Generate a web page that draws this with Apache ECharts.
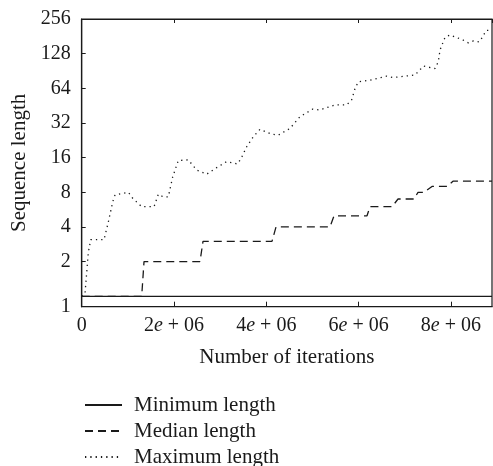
<!DOCTYPE html>
<html>
<head>
<meta charset="utf-8">
<script src="https://cdn.jsdelivr.net/npm/echarts@6/dist/echarts.min.js"></script>
<style>
html,body{margin:0;padding:0;background:#fff;}
#chart{width:493px;height:466px;}
</style>
</head>
<body>
<div id="chart"></div>
<script>
// Data (iterations, sequence length)
const minIter = [0, 8890000];
const minLen = [1, 1];

const medianIter = [0, 1300000, 1350000, 2563000, 2628000, 4123000, 4210000, 5380000, 5467000,
  6182000, 6247000, 6724000, 6854000, 7200000, 7287000, 7417000, 7590000, 7915000, 8045000, 8890000];
const medianLen = [1, 1, 2, 2, 3, 3, 4, 4, 5, 5, 6, 6, 7, 7, 8, 8, 9, 9, 10, 10];

const maxIter = [0, 71500, 108000, 143000, 195000, 483000, 576000, 672000, 722000, 867000,
  1010000, 1105000, 1300000, 1567000, 1660000, 1768000, 1876000, 1972000, 2093000, 2310000,
  2492000, 2709000, 2925000, 3142000, 3372000, 3445000, 3575000, 3718000, 3863000, 4117000,
  4260000, 4513000, 4730000, 5005000, 5148000, 5488000, 5742000, 5850000, 5922000, 5993000,
  6247000, 6609000, 6752000, 7005000, 7222000, 7330000, 7402000, 7655000, 7727000, 7764000,
  7872000, 7981000, 8256000, 8377000, 8485000, 8615000, 8689000, 8760000, 8890000];
const maxLen = [1, 1.06, 1.6, 2.4, 3.1, 3.1, 4.4, 6.6, 7.6, 7.8,
  8.0, 7.1, 6.0, 6.0, 7.7, 7.3, 7.3, 10.9, 15.1, 15.3,
  12.5, 11.5, 13.1, 14.8, 14.1, 15.5, 19.9, 24.3, 28.2, 25.6,
  25.1, 28.7, 36.3, 42.2, 41.5, 45.9, 45.9, 50.9, 63.7, 73,
  75.4, 81.6, 79.4, 81.6, 83.6, 92.8, 100, 95.1, 109, 137.6,
  177.6, 186, 168.6, 159, 165, 162, 179.6, 203, 206];

const xTicks = [0, 2000000, 4000000, 6000000, 8000000];
const yTicks = [1, 2, 4, 8, 16, 32, 64, 128, 256];
const seriesNames = ['Minimum length', 'Median length', 'Maximum length'];

const zip = (a, b) => a.map((v, i) => [v, b[i]]);
const FONT = 'Liberation Serif';
const INK = '#1a1a1a';

const chart = echarts.init(document.getElementById('chart'), null, {renderer: 'canvas'});

const xLabelFmt = v => {
  if (v === 0) return '0';
  if (xTicks.indexOf(v) < 0) return '';
  return '{n|' + (v / 1e6) + '}{i|e}{n| + 06}';
};
const richX = {
  n: {fontFamily: FONT, fontSize: 20, color: INK},
  i: {fontFamily: FONT, fontSize: 20, color: INK, fontStyle: 'italic'}
};

const option = {
  animation: false,
  backgroundColor: '#fff',
  textStyle: {fontFamily: FONT, color: INK},
  grid: {left: 81.7, right: 1, top: 19, bottom: 159.3, show: true, borderColor: INK, borderWidth: 1.2, backgroundColor: 'transparent'},
  xAxis: [{
    type: 'value', min: 0, max: 8890000, interval: 2000000, position: 'bottom',
    name: 'Number of iterations', nameLocation: 'middle', nameGap: 40,
    nameTextStyle: {fontFamily: FONT, fontSize: 21, color: INK},
    axisLine: {show: true, lineStyle: {color: INK, width: 1.2}},
    axisTick: {show: true, inside: true, length: 5, lineStyle: {color: INK}},
    axisLabel: {show: true, margin: 9, formatter: xLabelFmt, rich: richX, showMaxLabel: false, color: INK, fontSize: 20, fontFamily: FONT},
    splitLine: {show: false}
  }, {
    type: 'value', min: 0, max: 8890000, interval: 2000000, position: 'top',
    axisLine: {show: true, lineStyle: {color: INK, width: 1.2}},
    axisTick: {show: true, inside: true, length: 4, lineStyle: {color: INK}},
    axisLabel: {show: false},
    splitLine: {show: false}
  }],
  yAxis: {
    type: 'log', logBase: 2, min: 0.812, max: 256,
    name: 'Sequence length', nameLocation: 'middle', nameGap: 52,
    nameTextStyle: {fontFamily: FONT, fontSize: 21, color: INK},
    axisLine: {show: true, lineStyle: {color: INK, width: 1.2}},
    axisTick: {show: true, inside: true, length: 4, lineStyle: {color: INK}},
    axisLabel: {
      margin: 11, color: INK, fontFamily: FONT, fontSize: 20,
      formatter: v => {
        if (v < 0.99) return '1';
        if (Math.abs(v - 1) < 1e-6) return '';
        const r = Math.round(v);
        return yTicks.indexOf(r) >= 0 ? String(r) : '';
      }
    },
    splitLine: {show: false}
  },
  legend: {
    show: true,
    orient: 'vertical', left: 84, top: 394, height: 120, itemWidth: 37, itemHeight: 14, itemGap: 4,
    padding: 0,
    data: seriesNames,
    itemStyle: {color: 'rgba(0,0,0,0)', borderWidth: 0, opacity: 0},
    textStyle: {fontFamily: FONT, fontSize: 21, lineHeight: 22, color: INK, padding: [0, 0, 0, 7]}
  },
  series: [
    {name: seriesNames[0], type: 'line', xAxisIndex: 0, data: zip(minIter, minLen), symbol: 'none',
      lineStyle: {color: INK, width: 1.3, type: 'solid'}, itemStyle: {color: INK}},
    {name: seriesNames[1], type: 'line', xAxisIndex: 0, data: zip(medianIter, medianLen), symbol: 'none',
      lineStyle: {color: INK, width: 1.3, type: [8, 5]}, itemStyle: {color: INK}},
    {name: seriesNames[2], type: 'line', xAxisIndex: 0, data: zip(maxIter, maxLen), symbol: 'none',
      lineStyle: {color: INK, width: 1.3, type: [1.3, 4]}, itemStyle: {color: INK}}
  ]
};
chart.setOption(option);
</script>
</body>
</html>
